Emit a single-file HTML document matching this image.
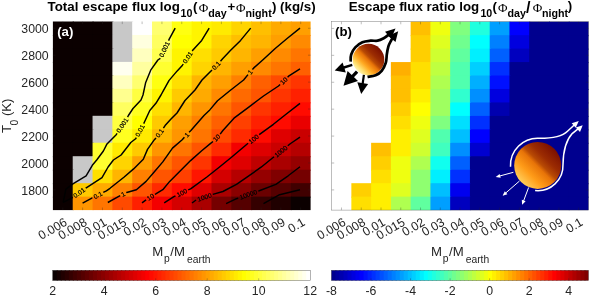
<!DOCTYPE html><html><head><meta charset="utf-8"><title>Escape flux</title><style>html,body{margin:0;padding:0;background:#fff}svg{display:block}text{font-family:"Liberation Sans",sans-serif}</style></head><body>
<svg width="589" height="295" viewBox="0 0 589 295">
<rect width="589" height="295" fill="#fff"/>
<g id="plotA"><rect x="52.90" y="21.50" width="20.82" height="14.47" fill="#0b0000"/><rect x="72.72" y="21.50" width="20.82" height="14.47" fill="#0b0000"/><rect x="92.55" y="21.50" width="20.82" height="14.47" fill="#0b0000"/><rect x="112.37" y="21.50" width="20.82" height="14.47" fill="#c8c8c8"/><rect x="132.19" y="21.50" width="20.82" height="14.47" fill="#ffffff"/><rect x="152.02" y="21.50" width="20.82" height="14.47" fill="#ffff70"/><rect x="171.84" y="21.50" width="20.82" height="14.47" fill="#ffff10"/><rect x="191.66" y="21.50" width="20.82" height="14.47" fill="#fff400"/><rect x="211.48" y="21.50" width="20.82" height="14.47" fill="#ffea00"/><rect x="231.31" y="21.50" width="20.82" height="14.47" fill="#ffd400"/><rect x="251.13" y="21.50" width="20.82" height="14.47" fill="#ffbf00"/><rect x="270.95" y="21.50" width="20.82" height="14.47" fill="#ffaa00"/><rect x="290.78" y="21.50" width="19.82" height="14.47" fill="#ff9f00"/><rect x="52.90" y="34.97" width="20.82" height="14.47" fill="#0b0000"/><rect x="72.72" y="34.97" width="20.82" height="14.47" fill="#0b0000"/><rect x="92.55" y="34.97" width="20.82" height="14.47" fill="#0b0000"/><rect x="112.37" y="34.97" width="20.82" height="14.47" fill="#c8c8c8"/><rect x="132.19" y="34.97" width="20.82" height="14.47" fill="#ffffdf"/><rect x="152.02" y="34.97" width="20.82" height="14.47" fill="#ffff60"/><rect x="171.84" y="34.97" width="20.82" height="14.47" fill="#ffff00"/><rect x="191.66" y="34.97" width="20.82" height="14.47" fill="#fff400"/><rect x="211.48" y="34.97" width="20.82" height="14.47" fill="#ffd400"/><rect x="231.31" y="34.97" width="20.82" height="14.47" fill="#ffbf00"/><rect x="251.13" y="34.97" width="20.82" height="14.47" fill="#ffb500"/><rect x="270.95" y="34.97" width="20.82" height="14.47" fill="#ff9f00"/><rect x="290.78" y="34.97" width="19.82" height="14.47" fill="#ff8a00"/><rect x="52.90" y="48.44" width="20.82" height="14.47" fill="#0b0000"/><rect x="72.72" y="48.44" width="20.82" height="14.47" fill="#0b0000"/><rect x="92.55" y="48.44" width="20.82" height="14.47" fill="#0b0000"/><rect x="112.37" y="48.44" width="20.82" height="14.47" fill="#c8c8c8"/><rect x="132.19" y="48.44" width="20.82" height="14.47" fill="#ffffbf"/><rect x="152.02" y="48.44" width="20.82" height="14.47" fill="#ffff50"/><rect x="171.84" y="48.44" width="20.82" height="14.47" fill="#fff400"/><rect x="191.66" y="48.44" width="20.82" height="14.47" fill="#ffdf00"/><rect x="211.48" y="48.44" width="20.82" height="14.47" fill="#ffca00"/><rect x="231.31" y="48.44" width="20.82" height="14.47" fill="#ffb500"/><rect x="251.13" y="48.44" width="20.82" height="14.47" fill="#ff9f00"/><rect x="270.95" y="48.44" width="20.82" height="14.47" fill="#ff8a00"/><rect x="290.78" y="48.44" width="19.82" height="14.47" fill="#ff7500"/><rect x="52.90" y="61.91" width="20.82" height="14.47" fill="#0b0000"/><rect x="72.72" y="61.91" width="20.82" height="14.47" fill="#0b0000"/><rect x="92.55" y="61.91" width="20.82" height="14.47" fill="#0b0000"/><rect x="112.37" y="61.91" width="20.82" height="14.47" fill="#ffffef"/><rect x="132.19" y="61.91" width="20.82" height="14.47" fill="#ffff9f"/><rect x="152.02" y="61.91" width="20.82" height="14.47" fill="#ffff30"/><rect x="171.84" y="61.91" width="20.82" height="14.47" fill="#fff400"/><rect x="191.66" y="61.91" width="20.82" height="14.47" fill="#ffd400"/><rect x="211.48" y="61.91" width="20.82" height="14.47" fill="#ffb500"/><rect x="231.31" y="61.91" width="20.82" height="14.47" fill="#ff9f00"/><rect x="251.13" y="61.91" width="20.82" height="14.47" fill="#ff8a00"/><rect x="270.95" y="61.91" width="20.82" height="14.47" fill="#ff7500"/><rect x="290.78" y="61.91" width="19.82" height="14.47" fill="#ff6000"/><rect x="52.90" y="75.39" width="20.82" height="14.47" fill="#0b0000"/><rect x="72.72" y="75.39" width="20.82" height="14.47" fill="#0b0000"/><rect x="92.55" y="75.39" width="20.82" height="14.47" fill="#0b0000"/><rect x="112.37" y="75.39" width="20.82" height="14.47" fill="#ffffbf"/><rect x="132.19" y="75.39" width="20.82" height="14.47" fill="#ffff70"/><rect x="152.02" y="75.39" width="20.82" height="14.47" fill="#ffff10"/><rect x="171.84" y="75.39" width="20.82" height="14.47" fill="#ffdf00"/><rect x="191.66" y="75.39" width="20.82" height="14.47" fill="#ffb500"/><rect x="211.48" y="75.39" width="20.82" height="14.47" fill="#ff9f00"/><rect x="231.31" y="75.39" width="20.82" height="14.47" fill="#ff8000"/><rect x="251.13" y="75.39" width="20.82" height="14.47" fill="#ff6000"/><rect x="270.95" y="75.39" width="20.82" height="14.47" fill="#ff4a00"/><rect x="290.78" y="75.39" width="19.82" height="14.47" fill="#ff3500"/><rect x="52.90" y="88.86" width="20.82" height="14.47" fill="#0b0000"/><rect x="72.72" y="88.86" width="20.82" height="14.47" fill="#0b0000"/><rect x="92.55" y="88.86" width="20.82" height="14.47" fill="#0b0000"/><rect x="112.37" y="88.86" width="20.82" height="14.47" fill="#ffff8f"/><rect x="132.19" y="88.86" width="20.82" height="14.47" fill="#ffff40"/><rect x="152.02" y="88.86" width="20.82" height="14.47" fill="#fff400"/><rect x="171.84" y="88.86" width="20.82" height="14.47" fill="#ffca00"/><rect x="191.66" y="88.86" width="20.82" height="14.47" fill="#ffaa00"/><rect x="211.48" y="88.86" width="20.82" height="14.47" fill="#ff8a00"/><rect x="231.31" y="88.86" width="20.82" height="14.47" fill="#ff6a00"/><rect x="251.13" y="88.86" width="20.82" height="14.47" fill="#ff5500"/><rect x="270.95" y="88.86" width="20.82" height="14.47" fill="#ff3500"/><rect x="290.78" y="88.86" width="19.82" height="14.47" fill="#ff2000"/><rect x="52.90" y="102.33" width="20.82" height="14.47" fill="#0b0000"/><rect x="72.72" y="102.33" width="20.82" height="14.47" fill="#0b0000"/><rect x="92.55" y="102.33" width="20.82" height="14.47" fill="#0b0000"/><rect x="112.37" y="102.33" width="20.82" height="14.47" fill="#ffff60"/><rect x="132.19" y="102.33" width="20.82" height="14.47" fill="#ffff20"/><rect x="152.02" y="102.33" width="20.82" height="14.47" fill="#ffdf00"/><rect x="171.84" y="102.33" width="20.82" height="14.47" fill="#ffb500"/><rect x="191.66" y="102.33" width="20.82" height="14.47" fill="#ff9500"/><rect x="211.48" y="102.33" width="20.82" height="14.47" fill="#ff7500"/><rect x="231.31" y="102.33" width="20.82" height="14.47" fill="#ff5500"/><rect x="251.13" y="102.33" width="20.82" height="14.47" fill="#ff3500"/><rect x="270.95" y="102.33" width="20.82" height="14.47" fill="#ff2000"/><rect x="290.78" y="102.33" width="19.82" height="14.47" fill="#ff0b00"/><rect x="52.90" y="115.80" width="20.82" height="14.47" fill="#0b0000"/><rect x="72.72" y="115.80" width="20.82" height="14.47" fill="#0b0000"/><rect x="92.55" y="115.80" width="20.82" height="14.47" fill="#c8c8c8"/><rect x="112.37" y="115.80" width="20.82" height="14.47" fill="#ffff40"/><rect x="132.19" y="115.80" width="20.82" height="14.47" fill="#ffff00"/><rect x="152.02" y="115.80" width="20.82" height="14.47" fill="#ffca00"/><rect x="171.84" y="115.80" width="20.82" height="14.47" fill="#ff9f00"/><rect x="191.66" y="115.80" width="20.82" height="14.47" fill="#ff8000"/><rect x="211.48" y="115.80" width="20.82" height="14.47" fill="#ff6000"/><rect x="231.31" y="115.80" width="20.82" height="14.47" fill="#ff4000"/><rect x="251.13" y="115.80" width="20.82" height="14.47" fill="#ff2000"/><rect x="270.95" y="115.80" width="20.82" height="14.47" fill="#ff0b00"/><rect x="290.78" y="115.80" width="19.82" height="14.47" fill="#ea0000"/><rect x="52.90" y="129.27" width="20.82" height="14.47" fill="#0b0000"/><rect x="72.72" y="129.27" width="20.82" height="14.47" fill="#0b0000"/><rect x="92.55" y="129.27" width="20.82" height="14.47" fill="#c8c8c8"/><rect x="112.37" y="129.27" width="20.82" height="14.47" fill="#ffff20"/><rect x="132.19" y="129.27" width="20.82" height="14.47" fill="#ffea00"/><rect x="152.02" y="129.27" width="20.82" height="14.47" fill="#ffb500"/><rect x="171.84" y="129.27" width="20.82" height="14.47" fill="#ff9500"/><rect x="191.66" y="129.27" width="20.82" height="14.47" fill="#ff7500"/><rect x="211.48" y="129.27" width="20.82" height="14.47" fill="#ff4a00"/><rect x="231.31" y="129.27" width="20.82" height="14.47" fill="#ff2a00"/><rect x="251.13" y="129.27" width="20.82" height="14.47" fill="#ff0b00"/><rect x="270.95" y="129.27" width="20.82" height="14.47" fill="#df0000"/><rect x="290.78" y="129.27" width="19.82" height="14.47" fill="#ca0000"/><rect x="52.90" y="142.74" width="20.82" height="14.47" fill="#0b0000"/><rect x="72.72" y="142.74" width="20.82" height="14.47" fill="#0b0000"/><rect x="92.55" y="142.74" width="20.82" height="14.47" fill="#ffff30"/><rect x="112.37" y="142.74" width="20.82" height="14.47" fill="#ffea00"/><rect x="132.19" y="142.74" width="20.82" height="14.47" fill="#ffca00"/><rect x="152.02" y="142.74" width="20.82" height="14.47" fill="#ff9500"/><rect x="171.84" y="142.74" width="20.82" height="14.47" fill="#ff7500"/><rect x="191.66" y="142.74" width="20.82" height="14.47" fill="#ff5500"/><rect x="211.48" y="142.74" width="20.82" height="14.47" fill="#ff2a00"/><rect x="231.31" y="142.74" width="20.82" height="14.47" fill="#f40000"/><rect x="251.13" y="142.74" width="20.82" height="14.47" fill="#df0000"/><rect x="270.95" y="142.74" width="20.82" height="14.47" fill="#ca0000"/><rect x="290.78" y="142.74" width="19.82" height="14.47" fill="#b50000"/><rect x="52.90" y="156.21" width="20.82" height="14.47" fill="#0b0000"/><rect x="72.72" y="156.21" width="20.82" height="14.47" fill="#c8c8c8"/><rect x="92.55" y="156.21" width="20.82" height="14.47" fill="#ffff30"/><rect x="112.37" y="156.21" width="20.82" height="14.47" fill="#ffd400"/><rect x="132.19" y="156.21" width="20.82" height="14.47" fill="#ff9f00"/><rect x="152.02" y="156.21" width="20.82" height="14.47" fill="#ff7500"/><rect x="171.84" y="156.21" width="20.82" height="14.47" fill="#ff5500"/><rect x="191.66" y="156.21" width="20.82" height="14.47" fill="#ff3500"/><rect x="211.48" y="156.21" width="20.82" height="14.47" fill="#f40000"/><rect x="231.31" y="156.21" width="20.82" height="14.47" fill="#df0000"/><rect x="251.13" y="156.21" width="20.82" height="14.47" fill="#bf0000"/><rect x="270.95" y="156.21" width="20.82" height="14.47" fill="#aa0000"/><rect x="290.78" y="156.21" width="19.82" height="14.47" fill="#950000"/><rect x="52.90" y="169.69" width="20.82" height="14.47" fill="#0b0000"/><rect x="72.72" y="169.69" width="20.82" height="14.47" fill="#c8c8c8"/><rect x="92.55" y="169.69" width="20.82" height="14.47" fill="#ffdf00"/><rect x="112.37" y="169.69" width="20.82" height="14.47" fill="#ffb500"/><rect x="132.19" y="169.69" width="20.82" height="14.47" fill="#ff8000"/><rect x="152.02" y="169.69" width="20.82" height="14.47" fill="#ff5500"/><rect x="171.84" y="169.69" width="20.82" height="14.47" fill="#ff4000"/><rect x="191.66" y="169.69" width="20.82" height="14.47" fill="#ff1500"/><rect x="211.48" y="169.69" width="20.82" height="14.47" fill="#d40000"/><rect x="231.31" y="169.69" width="20.82" height="14.47" fill="#b50000"/><rect x="251.13" y="169.69" width="20.82" height="14.47" fill="#950000"/><rect x="270.95" y="169.69" width="20.82" height="14.47" fill="#800000"/><rect x="290.78" y="169.69" width="19.82" height="14.47" fill="#750000"/><rect x="52.90" y="183.16" width="20.82" height="14.47" fill="#0b0000"/><rect x="72.72" y="183.16" width="20.82" height="14.47" fill="#ffca00"/><rect x="92.55" y="183.16" width="20.82" height="14.47" fill="#ffaa00"/><rect x="112.37" y="183.16" width="20.82" height="14.47" fill="#ff8000"/><rect x="132.19" y="183.16" width="20.82" height="14.47" fill="#ff5500"/><rect x="152.02" y="183.16" width="20.82" height="14.47" fill="#ff2a00"/><rect x="171.84" y="183.16" width="20.82" height="14.47" fill="#ff0b00"/><rect x="191.66" y="183.16" width="20.82" height="14.47" fill="#df0000"/><rect x="211.48" y="183.16" width="20.82" height="14.47" fill="#aa0000"/><rect x="231.31" y="183.16" width="20.82" height="14.47" fill="#8a0000"/><rect x="251.13" y="183.16" width="20.82" height="14.47" fill="#6a0000"/><rect x="270.95" y="183.16" width="20.82" height="14.47" fill="#550000"/><rect x="290.78" y="183.16" width="19.82" height="14.47" fill="#400000"/><rect x="52.90" y="196.63" width="20.82" height="13.47" fill="#0b0000"/><rect x="72.72" y="196.63" width="20.82" height="13.47" fill="#ff9500"/><rect x="92.55" y="196.63" width="20.82" height="13.47" fill="#ff7500"/><rect x="112.37" y="196.63" width="20.82" height="13.47" fill="#ff4a00"/><rect x="132.19" y="196.63" width="20.82" height="13.47" fill="#ff2000"/><rect x="152.02" y="196.63" width="20.82" height="13.47" fill="#f40000"/><rect x="171.84" y="196.63" width="20.82" height="13.47" fill="#d40000"/><rect x="191.66" y="196.63" width="20.82" height="13.47" fill="#aa0000"/><rect x="211.48" y="196.63" width="20.82" height="13.47" fill="#750000"/><rect x="231.31" y="196.63" width="20.82" height="13.47" fill="#550000"/><rect x="251.13" y="196.63" width="20.82" height="13.47" fill="#350000"/><rect x="270.95" y="196.63" width="20.82" height="13.47" fill="#200000"/><rect x="290.78" y="196.63" width="19.82" height="13.47" fill="#0b0000"/></g>
<g id="plotB"><rect x="410.65" y="21.70" width="20.76" height="14.46" fill="#ffbf00"/><rect x="430.41" y="21.70" width="20.76" height="14.46" fill="#efff10"/><rect x="450.17" y="21.70" width="20.76" height="14.46" fill="#80ff80"/><rect x="469.93" y="21.70" width="20.76" height="14.46" fill="#20ffdf"/><rect x="489.69" y="21.70" width="20.76" height="14.46" fill="#009fff"/><rect x="509.45" y="21.70" width="20.76" height="14.46" fill="#0000ff"/><rect x="529.22" y="21.70" width="20.76" height="14.46" fill="#00008f"/><rect x="548.98" y="21.70" width="20.76" height="14.46" fill="#00008f"/><rect x="568.74" y="21.70" width="19.76" height="14.46" fill="#00008f"/><rect x="410.65" y="35.16" width="20.76" height="14.46" fill="#ffcf00"/><rect x="430.41" y="35.16" width="20.76" height="14.46" fill="#dfff20"/><rect x="450.17" y="35.16" width="20.76" height="14.46" fill="#70ff8f"/><rect x="469.93" y="35.16" width="20.76" height="14.46" fill="#00ffff"/><rect x="489.69" y="35.16" width="20.76" height="14.46" fill="#0080ff"/><rect x="509.45" y="35.16" width="20.76" height="14.46" fill="#0000df"/><rect x="529.22" y="35.16" width="20.76" height="14.46" fill="#00008f"/><rect x="548.98" y="35.16" width="20.76" height="14.46" fill="#00008f"/><rect x="568.74" y="35.16" width="19.76" height="14.46" fill="#00008f"/><rect x="410.65" y="48.61" width="20.76" height="14.46" fill="#ffcf00"/><rect x="430.41" y="48.61" width="20.76" height="14.46" fill="#cfff30"/><rect x="450.17" y="48.61" width="20.76" height="14.46" fill="#60ff9f"/><rect x="469.93" y="48.61" width="20.76" height="14.46" fill="#00efff"/><rect x="489.69" y="48.61" width="20.76" height="14.46" fill="#0060ff"/><rect x="509.45" y="48.61" width="20.76" height="14.46" fill="#0000bf"/><rect x="529.22" y="48.61" width="20.76" height="14.46" fill="#00008f"/><rect x="548.98" y="48.61" width="20.76" height="14.46" fill="#00008f"/><rect x="568.74" y="48.61" width="19.76" height="14.46" fill="#00008f"/><rect x="390.88" y="62.07" width="20.76" height="14.46" fill="#ffaf00"/><rect x="410.65" y="62.07" width="20.76" height="14.46" fill="#ffdf00"/><rect x="430.41" y="62.07" width="20.76" height="14.46" fill="#bfff40"/><rect x="450.17" y="62.07" width="20.76" height="14.46" fill="#50ffaf"/><rect x="469.93" y="62.07" width="20.76" height="14.46" fill="#00cfff"/><rect x="489.69" y="62.07" width="20.76" height="14.46" fill="#0030ff"/><rect x="509.45" y="62.07" width="20.76" height="14.46" fill="#00008f"/><rect x="529.22" y="62.07" width="20.76" height="14.46" fill="#00008f"/><rect x="548.98" y="62.07" width="20.76" height="14.46" fill="#00008f"/><rect x="568.74" y="62.07" width="19.76" height="14.46" fill="#00008f"/><rect x="390.88" y="75.53" width="20.76" height="14.46" fill="#ffbf00"/><rect x="410.65" y="75.53" width="20.76" height="14.46" fill="#ffdf00"/><rect x="430.41" y="75.53" width="20.76" height="14.46" fill="#afff50"/><rect x="450.17" y="75.53" width="20.76" height="14.46" fill="#50ffaf"/><rect x="469.93" y="75.53" width="20.76" height="14.46" fill="#00afff"/><rect x="489.69" y="75.53" width="20.76" height="14.46" fill="#0010ff"/><rect x="509.45" y="75.53" width="20.76" height="14.46" fill="#00008f"/><rect x="529.22" y="75.53" width="20.76" height="14.46" fill="#00008f"/><rect x="548.98" y="75.53" width="20.76" height="14.46" fill="#00008f"/><rect x="568.74" y="75.53" width="19.76" height="14.46" fill="#00008f"/><rect x="390.88" y="88.99" width="20.76" height="14.46" fill="#ffbf00"/><rect x="410.65" y="88.99" width="20.76" height="14.46" fill="#ffef00"/><rect x="430.41" y="88.99" width="20.76" height="14.46" fill="#9fff60"/><rect x="450.17" y="88.99" width="20.76" height="14.46" fill="#30ffcf"/><rect x="469.93" y="88.99" width="20.76" height="14.46" fill="#008fff"/><rect x="489.69" y="88.99" width="20.76" height="14.46" fill="#0000df"/><rect x="509.45" y="88.99" width="20.76" height="14.46" fill="#00008f"/><rect x="529.22" y="88.99" width="20.76" height="14.46" fill="#00008f"/><rect x="548.98" y="88.99" width="20.76" height="14.46" fill="#00008f"/><rect x="568.74" y="88.99" width="19.76" height="14.46" fill="#00008f"/><rect x="390.88" y="102.44" width="20.76" height="14.46" fill="#ffcf00"/><rect x="410.65" y="102.44" width="20.76" height="14.46" fill="#ffff00"/><rect x="430.41" y="102.44" width="20.76" height="14.46" fill="#9fff60"/><rect x="450.17" y="102.44" width="20.76" height="14.46" fill="#00ffff"/><rect x="469.93" y="102.44" width="20.76" height="14.46" fill="#0060ff"/><rect x="489.69" y="102.44" width="20.76" height="14.46" fill="#0000af"/><rect x="509.45" y="102.44" width="20.76" height="14.46" fill="#00008f"/><rect x="529.22" y="102.44" width="20.76" height="14.46" fill="#00008f"/><rect x="548.98" y="102.44" width="20.76" height="14.46" fill="#00008f"/><rect x="568.74" y="102.44" width="19.76" height="14.46" fill="#00008f"/><rect x="390.88" y="115.90" width="20.76" height="14.46" fill="#ffdf00"/><rect x="410.65" y="115.90" width="20.76" height="14.46" fill="#efff10"/><rect x="430.41" y="115.90" width="20.76" height="14.46" fill="#80ff80"/><rect x="450.17" y="115.90" width="20.76" height="14.46" fill="#00dfff"/><rect x="469.93" y="115.90" width="20.76" height="14.46" fill="#0030ff"/><rect x="489.69" y="115.90" width="20.76" height="14.46" fill="#00008f"/><rect x="509.45" y="115.90" width="20.76" height="14.46" fill="#00008f"/><rect x="529.22" y="115.90" width="20.76" height="14.46" fill="#00008f"/><rect x="548.98" y="115.90" width="20.76" height="14.46" fill="#00008f"/><rect x="568.74" y="115.90" width="19.76" height="14.46" fill="#00008f"/><rect x="390.88" y="129.36" width="20.76" height="14.46" fill="#ffef00"/><rect x="410.65" y="129.36" width="20.76" height="14.46" fill="#dfff20"/><rect x="430.41" y="129.36" width="20.76" height="14.46" fill="#50ffaf"/><rect x="450.17" y="129.36" width="20.76" height="14.46" fill="#00bfff"/><rect x="469.93" y="129.36" width="20.76" height="14.46" fill="#0000ff"/><rect x="489.69" y="129.36" width="20.76" height="14.46" fill="#00008f"/><rect x="509.45" y="129.36" width="20.76" height="14.46" fill="#00008f"/><rect x="529.22" y="129.36" width="20.76" height="14.46" fill="#00008f"/><rect x="548.98" y="129.36" width="20.76" height="14.46" fill="#00008f"/><rect x="568.74" y="129.36" width="19.76" height="14.46" fill="#00008f"/><rect x="371.12" y="142.81" width="20.76" height="14.46" fill="#ffbf00"/><rect x="390.88" y="142.81" width="20.76" height="14.46" fill="#ffef00"/><rect x="410.65" y="142.81" width="20.76" height="14.46" fill="#cfff30"/><rect x="430.41" y="142.81" width="20.76" height="14.46" fill="#40ffbf"/><rect x="450.17" y="142.81" width="20.76" height="14.46" fill="#008fff"/><rect x="469.93" y="142.81" width="20.76" height="14.46" fill="#0000cf"/><rect x="489.69" y="142.81" width="20.76" height="14.46" fill="#00008f"/><rect x="509.45" y="142.81" width="20.76" height="14.46" fill="#00008f"/><rect x="529.22" y="142.81" width="20.76" height="14.46" fill="#00008f"/><rect x="548.98" y="142.81" width="20.76" height="14.46" fill="#00008f"/><rect x="568.74" y="142.81" width="19.76" height="14.46" fill="#00008f"/><rect x="371.12" y="156.27" width="20.76" height="14.46" fill="#ffcf00"/><rect x="390.88" y="156.27" width="20.76" height="14.46" fill="#efff10"/><rect x="410.65" y="156.27" width="20.76" height="14.46" fill="#afff50"/><rect x="430.41" y="156.27" width="20.76" height="14.46" fill="#10ffef"/><rect x="450.17" y="156.27" width="20.76" height="14.46" fill="#0060ff"/><rect x="469.93" y="156.27" width="20.76" height="14.46" fill="#00008f"/><rect x="489.69" y="156.27" width="20.76" height="14.46" fill="#00008f"/><rect x="509.45" y="156.27" width="20.76" height="14.46" fill="#00008f"/><rect x="529.22" y="156.27" width="20.76" height="14.46" fill="#00008f"/><rect x="548.98" y="156.27" width="20.76" height="14.46" fill="#00008f"/><rect x="568.74" y="156.27" width="19.76" height="14.46" fill="#00008f"/><rect x="371.12" y="169.73" width="20.76" height="14.46" fill="#ffdf00"/><rect x="390.88" y="169.73" width="20.76" height="14.46" fill="#efff10"/><rect x="410.65" y="169.73" width="20.76" height="14.46" fill="#8fff70"/><rect x="430.41" y="169.73" width="20.76" height="14.46" fill="#00efff"/><rect x="450.17" y="169.73" width="20.76" height="14.46" fill="#0030ff"/><rect x="469.93" y="169.73" width="20.76" height="14.46" fill="#00008f"/><rect x="489.69" y="169.73" width="20.76" height="14.46" fill="#00008f"/><rect x="509.45" y="169.73" width="20.76" height="14.46" fill="#00008f"/><rect x="529.22" y="169.73" width="20.76" height="14.46" fill="#00008f"/><rect x="548.98" y="169.73" width="20.76" height="14.46" fill="#00008f"/><rect x="568.74" y="169.73" width="19.76" height="14.46" fill="#00008f"/><rect x="351.36" y="183.19" width="20.76" height="14.46" fill="#ffcf00"/><rect x="371.12" y="183.19" width="20.76" height="14.46" fill="#ffef00"/><rect x="390.88" y="183.19" width="20.76" height="14.46" fill="#dfff20"/><rect x="410.65" y="183.19" width="20.76" height="14.46" fill="#8fff70"/><rect x="430.41" y="183.19" width="20.76" height="14.46" fill="#00bfff"/><rect x="450.17" y="183.19" width="20.76" height="14.46" fill="#0000ef"/><rect x="469.93" y="183.19" width="20.76" height="14.46" fill="#00008f"/><rect x="489.69" y="183.19" width="20.76" height="14.46" fill="#00008f"/><rect x="509.45" y="183.19" width="20.76" height="14.46" fill="#00008f"/><rect x="529.22" y="183.19" width="20.76" height="14.46" fill="#00008f"/><rect x="548.98" y="183.19" width="20.76" height="14.46" fill="#00008f"/><rect x="568.74" y="183.19" width="19.76" height="14.46" fill="#00008f"/><rect x="351.36" y="196.64" width="20.76" height="13.46" fill="#ffdf00"/><rect x="371.12" y="196.64" width="20.76" height="13.46" fill="#ffef00"/><rect x="390.88" y="196.64" width="20.76" height="13.46" fill="#afff50"/><rect x="410.65" y="196.64" width="20.76" height="13.46" fill="#60ff9f"/><rect x="430.41" y="196.64" width="20.76" height="13.46" fill="#009fff"/><rect x="450.17" y="196.64" width="20.76" height="13.46" fill="#0000bf"/><rect x="469.93" y="196.64" width="20.76" height="13.46" fill="#00008f"/><rect x="489.69" y="196.64" width="20.76" height="13.46" fill="#00008f"/><rect x="509.45" y="196.64" width="20.76" height="13.46" fill="#00008f"/><rect x="529.22" y="196.64" width="20.76" height="13.46" fill="#00008f"/><rect x="548.98" y="196.64" width="20.76" height="13.46" fill="#00008f"/><rect x="568.74" y="196.64" width="19.76" height="13.46" fill="#00008f"/></g>
<g stroke="#262626" stroke-width="0.5" fill="none" opacity="0.6"><path d="M62.81 210.10v-2.6M62.81 21.50v2.6"/><path d="M82.63 210.10v-2.6M82.63 21.50v2.6"/><path d="M102.46 210.10v-2.6M102.46 21.50v2.6"/><path d="M122.28 210.10v-2.6M122.28 21.50v2.6"/><path d="M142.10 210.10v-2.6M142.10 21.50v2.6"/><path d="M161.93 210.10v-2.6M161.93 21.50v2.6"/><path d="M181.75 210.10v-2.6M181.75 21.50v2.6"/><path d="M201.57 210.10v-2.6M201.57 21.50v2.6"/><path d="M221.40 210.10v-2.6M221.40 21.50v2.6"/><path d="M241.22 210.10v-2.6M241.22 21.50v2.6"/><path d="M261.04 210.10v-2.6M261.04 21.50v2.6"/><path d="M280.87 210.10v-2.6M280.87 21.50v2.6"/><path d="M300.69 210.10v-2.6M300.69 21.50v2.6"/><path d="M52.90 28.24h2.6M310.60 28.24h-2.6"/><path d="M52.90 55.18h2.6M310.60 55.18h-2.6"/><path d="M52.90 82.12h2.6M310.60 82.12h-2.6"/><path d="M52.90 109.06h2.6M310.60 109.06h-2.6"/><path d="M52.90 136.01h2.6M310.60 136.01h-2.6"/><path d="M52.90 162.95h2.6M310.60 162.95h-2.6"/><path d="M52.90 189.89h2.6M310.60 189.89h-2.6"/></g>
<g stroke="#262626" stroke-width="0.5" fill="none" opacity="0.6"><rect x="331.60" y="21.70" width="256.90" height="188.40"/><path d="M341.48 210.10v-2.6M341.48 21.70v2.6"/><path d="M361.24 210.10v-2.6M361.24 21.70v2.6"/><path d="M381.00 210.10v-2.6M381.00 21.70v2.6"/><path d="M400.77 210.10v-2.6M400.77 21.70v2.6"/><path d="M420.53 210.10v-2.6M420.53 21.70v2.6"/><path d="M440.29 210.10v-2.6M440.29 21.70v2.6"/><path d="M460.05 210.10v-2.6M460.05 21.70v2.6"/><path d="M479.81 210.10v-2.6M479.81 21.70v2.6"/><path d="M499.57 210.10v-2.6M499.57 21.70v2.6"/><path d="M519.33 210.10v-2.6M519.33 21.70v2.6"/><path d="M539.10 210.10v-2.6M539.10 21.70v2.6"/><path d="M558.86 210.10v-2.6M558.86 21.70v2.6"/><path d="M578.62 210.10v-2.6M578.62 21.70v2.6"/><path d="M331.60 28.43h2.6M588.50 28.43h-2.6"/><path d="M331.60 55.34h2.6M588.50 55.34h-2.6"/><path d="M331.60 82.26h2.6M588.50 82.26h-2.6"/><path d="M331.60 109.17h2.6M588.50 109.17h-2.6"/><path d="M331.60 136.09h2.6M588.50 136.09h-2.6"/><path d="M331.60 163.00h2.6M588.50 163.00h-2.6"/><path d="M331.60 189.91h2.6M588.50 189.91h-2.6"/></g>
<g id="contours" fill="none" stroke="#000" stroke-width="1.45" stroke-linejoin="round" stroke-linecap="butt">
<text x="164.4" y="49.4" transform="rotate(-64.5 164.4 49.4)" font-size="6.5" text-anchor="middle" dy="2.3" fill="#000" stroke="#000" stroke-width="0.2">0.001</text><text x="122.3" y="125.2" transform="rotate(-57.5 122.3 125.2)" font-size="6.5" text-anchor="middle" dy="2.3" fill="#000" stroke="#000" stroke-width="0.2">0.001</text><polyline points="175.2,28.1 169.1,39.4 168.6,40.6"/><polyline points="160.2,58.2 159.9,58.7 157.9,60.0 150.7,70.2 145.7,82.4 143.0,95.0 141.0,100.0 133.0,108.5 128.4,115.5 127.6,117.1"/><polyline points="117.1,133.4 116.2,134.7 107.0,143.9 103.4,151.0 96.7,160.0 92.3,165.3 86.1,175.9 72.9,183.8 65.9,189.1 63.2,202.3"/>
<text x="187.7" y="57.5" transform="rotate(-55.4 187.7 57.5)" font-size="6.5" text-anchor="middle" dy="2.3" fill="#000" stroke="#000" stroke-width="0.2">0.01</text><text x="140.0" y="130.6" transform="rotate(-62.2 140.0 130.6)" font-size="6.5" text-anchor="middle" dy="2.3" fill="#000" stroke="#000" stroke-width="0.2">0.01</text><text x="79.2" y="192.8" transform="rotate(-35.3 79.2 192.8)" font-size="6.5" text-anchor="middle" dy="2.3" fill="#000" stroke="#000" stroke-width="0.2">0.01</text><polyline points="209.2,28.1 201.7,40.4 192.5,50.6 192.2,51.0"/><polyline points="183.2,64.0 182.3,65.5 177.2,70.9 169.1,80.4 163.4,90.6 161.0,95.0 155.9,103.3 149.8,110.5 144.7,121.5 143.7,123.6"/><polyline points="136.3,137.6 135.6,138.8 130.8,142.5 121.1,155.0 113.4,160.0 108.1,167.0 102.0,177.6 87.0,187.3 85.7,188.2"/><polyline points="72.7,197.3 72.0,197.9 63.2,202.3"/>
<text x="216.3" y="65.6" transform="rotate(-46.3 216.3 65.6)" font-size="6.5" text-anchor="middle" dy="2.3" fill="#000" stroke="#000" stroke-width="0.2">0.1</text><text x="159.7" y="133.1" transform="rotate(-52.6 159.7 133.1)" font-size="6.5" text-anchor="middle" dy="2.3" fill="#000" stroke="#000" stroke-width="0.2">0.1</text><text x="97.9" y="195.1" transform="rotate(-26.6 97.9 195.1)" font-size="6.5" text-anchor="middle" dy="2.3" fill="#000" stroke="#000" stroke-width="0.2">0.1</text><polyline points="250.7,28.1 240.6,40.4 230.4,50.6 222.6,58.7 220.5,61.2"/><polyline points="212.0,70.0 211.5,70.5 202.0,80.0 195.0,90.0 185.0,100.5 177.0,113.0 171.0,119.0 165.1,125.6 163.4,128.2"/><polyline points="156.0,137.9 154.4,139.7 147.5,149.4 143.3,159.2 133.6,168.9 123.9,177.2 110.0,188.3 106.4,190.8 103.3,192.4"/><polyline points="92.4,197.9 92.3,197.9 82.6,203.2"/>
<text x="250.2" y="72.1" transform="rotate(-49.4 250.2 72.1)" font-size="6.5" text-anchor="middle" dy="2.3" fill="#000" stroke="#000" stroke-width="0.2">1</text><text x="186.8" y="134.8" transform="rotate(-46.5 186.8 134.8)" font-size="6.5" text-anchor="middle" dy="2.3" fill="#000" stroke="#000" stroke-width="0.2">1</text><text x="123.2" y="194.1" transform="rotate(-25.8 123.2 194.1)" font-size="6.5" text-anchor="middle" dy="2.3" fill="#000" stroke="#000" stroke-width="0.2">1</text><polyline points="300.0,28.1 287.4,38.3 275.2,48.5 263.0,59.7 253.8,67.9 252.4,69.5"/><polyline points="248.0,74.6 243.6,80.0 229.5,91.0 217.5,100.8 209.8,109.9 204.0,115.5 190.9,130.5 189.1,132.3"/><polyline points="184.4,137.2 182.2,139.7 172.5,148.1 162.8,161.9 154.4,171.7 146.1,181.4 136.4,189.7 126.7,192.5 126.3,192.7"/><polyline points="120.2,195.6 118.3,196.7 107.8,202.5"/>
<text x="283.8" y="80.8" transform="rotate(-44.2 283.8 80.8)" font-size="6.5" text-anchor="middle" dy="2.3" fill="#000" stroke="#000" stroke-width="0.2">10</text><text x="216.6" y="137.8" transform="rotate(-45.8 216.6 137.8)" font-size="6.5" text-anchor="middle" dy="2.3" fill="#000" stroke="#000" stroke-width="0.2">10</text><text x="150.5" y="197.1" transform="rotate(-31.6 150.5 197.1)" font-size="6.5" text-anchor="middle" dy="2.3" fill="#000" stroke="#000" stroke-width="0.2">10</text><polyline points="300.0,68.9 288.6,76.2 287.6,77.2"/><polyline points="280.1,84.5 278.5,86.0 263.5,96.0 248.8,107.1 234.0,118.2 222.9,130.5 220.2,134.1"/><polyline points="213.0,141.5 210.0,143.9 201.7,150.8 190.6,160.6 179.4,171.7 169.7,181.4 162.8,189.7 155.8,193.9 154.9,194.3"/><polyline points="146.1,199.8 144.7,200.8 142.0,202.8"/>
<text x="253.7" y="139.0" transform="rotate(-37.7 253.7 139.0)" font-size="6.5" text-anchor="middle" dy="2.3" fill="#000" stroke="#000" stroke-width="0.2">100</text><text x="181.9" y="192.8" transform="rotate(-25.2 181.9 192.8)" font-size="6.5" text-anchor="middle" dy="2.3" fill="#000" stroke="#000" stroke-width="0.2">100</text><polyline points="300.0,103.4 285.7,114.5 273.4,124.3 259.9,134.2 259.2,134.7"/><polyline points="248.1,143.3 246.3,144.7 231.5,157.3 219.2,167.2 206.9,177.0 190.6,188.9 188.2,189.9"/><polyline points="175.5,195.8 173.9,196.7 164.2,202.8"/>
<text x="280.9" y="151.4" transform="rotate(-38.6 280.9 151.4)" font-size="6.5" text-anchor="middle" dy="2.3" fill="#000" stroke="#000" stroke-width="0.2">1000</text><text x="204.5" y="197.2" transform="rotate(-18.5 204.5 197.2)" font-size="6.5" text-anchor="middle" dy="2.3" fill="#000" stroke="#000" stroke-width="0.2">1000</text><polyline points="300.0,137.1 290.6,143.5 287.8,145.8"/><polyline points="274.0,156.9 273.4,157.3 261.1,167.2 248.8,175.8 236.5,184.4 222.9,191.5 212.8,194.4"/><polyline points="196.1,200.0 192.0,203.0"/>
<text x="248.3" y="194.6" transform="rotate(-19.3 248.3 194.6)" font-size="6.5" text-anchor="middle" dy="2.3" fill="#000" stroke="#000" stroke-width="0.2">10000</text><polyline points="300.0,166.7 288.2,175.8 275.9,184.4 259.9,190.5 258.3,191.1"/><polyline points="238.2,198.1 236.5,198.7 226.1,203.6"/>
<polyline points="300.0,189.8 279.6,194.7 263.5,203.6"/>
</g>
<g fill="#262626">
<text x="48.7" y="33.24" font-size="12.3" text-anchor="end">3000</text>
<text x="48.7" y="60.18" font-size="12.3" text-anchor="end">2800</text>
<text x="48.7" y="87.12" font-size="12.3" text-anchor="end">2600</text>
<text x="48.7" y="114.06" font-size="12.3" text-anchor="end">2400</text>
<text x="48.7" y="141.01" font-size="12.3" text-anchor="end">2200</text>
<text x="48.7" y="167.95" font-size="12.3" text-anchor="end">2000</text>
<text x="48.7" y="194.89" font-size="12.3" text-anchor="end">1800</text>
<text x="63.61" y="217.00" font-size="12.3" text-anchor="end" transform="rotate(-30 63.61 217.00)" dy="8.8">0.006</text>
<text x="83.43" y="217.00" font-size="12.3" text-anchor="end" transform="rotate(-30 83.43 217.00)" dy="8.8">0.008</text>
<text x="103.26" y="217.00" font-size="12.3" text-anchor="end" transform="rotate(-30 103.26 217.00)" dy="8.8">0.01</text>
<text x="123.08" y="217.00" font-size="12.3" text-anchor="end" transform="rotate(-30 123.08 217.00)" dy="8.8">0.015</text>
<text x="142.90" y="217.00" font-size="12.3" text-anchor="end" transform="rotate(-30 142.90 217.00)" dy="8.8">0.02</text>
<text x="162.73" y="217.00" font-size="12.3" text-anchor="end" transform="rotate(-30 162.73 217.00)" dy="8.8">0.03</text>
<text x="182.55" y="217.00" font-size="12.3" text-anchor="end" transform="rotate(-30 182.55 217.00)" dy="8.8">0.04</text>
<text x="202.37" y="217.00" font-size="12.3" text-anchor="end" transform="rotate(-30 202.37 217.00)" dy="8.8">0.05</text>
<text x="222.20" y="217.00" font-size="12.3" text-anchor="end" transform="rotate(-30 222.20 217.00)" dy="8.8">0.06</text>
<text x="242.02" y="217.00" font-size="12.3" text-anchor="end" transform="rotate(-30 242.02 217.00)" dy="8.8">0.07</text>
<text x="261.84" y="217.00" font-size="12.3" text-anchor="end" transform="rotate(-30 261.84 217.00)" dy="8.8">0.08</text>
<text x="281.67" y="217.00" font-size="12.3" text-anchor="end" transform="rotate(-30 281.67 217.00)" dy="8.8">0.09</text>
<text x="301.49" y="217.00" font-size="12.3" text-anchor="end" transform="rotate(-30 301.49 217.00)" dy="8.8">0.1</text>
<text x="342.28" y="217.00" font-size="12.3" text-anchor="end" transform="rotate(-30 342.28 217.00)" dy="8.8">0.006</text>
<text x="362.04" y="217.00" font-size="12.3" text-anchor="end" transform="rotate(-30 362.04 217.00)" dy="8.8">0.008</text>
<text x="381.80" y="217.00" font-size="12.3" text-anchor="end" transform="rotate(-30 381.80 217.00)" dy="8.8">0.01</text>
<text x="401.57" y="217.00" font-size="12.3" text-anchor="end" transform="rotate(-30 401.57 217.00)" dy="8.8">0.015</text>
<text x="421.33" y="217.00" font-size="12.3" text-anchor="end" transform="rotate(-30 421.33 217.00)" dy="8.8">0.02</text>
<text x="441.09" y="217.00" font-size="12.3" text-anchor="end" transform="rotate(-30 441.09 217.00)" dy="8.8">0.03</text>
<text x="460.85" y="217.00" font-size="12.3" text-anchor="end" transform="rotate(-30 460.85 217.00)" dy="8.8">0.04</text>
<text x="480.61" y="217.00" font-size="12.3" text-anchor="end" transform="rotate(-30 480.61 217.00)" dy="8.8">0.05</text>
<text x="500.37" y="217.00" font-size="12.3" text-anchor="end" transform="rotate(-30 500.37 217.00)" dy="8.8">0.06</text>
<text x="520.13" y="217.00" font-size="12.3" text-anchor="end" transform="rotate(-30 520.13 217.00)" dy="8.8">0.07</text>
<text x="539.90" y="217.00" font-size="12.3" text-anchor="end" transform="rotate(-30 539.90 217.00)" dy="8.8">0.08</text>
<text x="559.66" y="217.00" font-size="12.3" text-anchor="end" transform="rotate(-30 559.66 217.00)" dy="8.8">0.09</text>
<text x="579.42" y="217.00" font-size="12.3" text-anchor="end" transform="rotate(-30 579.42 217.00)" dy="8.8">0.1</text>
<text y="255.6" font-size="13.2"><tspan x="152.3">M</tspan><tspan x="164.0" dy="6.4" font-size="10.3">p</tspan><tspan x="170.3" dy="-6.4">/M</tspan><tspan x="187.0" dy="7.2" font-size="10.3">earth</tspan></text>
<text y="255.6" font-size="13.2"><tspan x="431.0">M</tspan><tspan x="442.7" dy="6.4" font-size="10.3">p</tspan><tspan x="449.0" dy="-6.4">/M</tspan><tspan x="465.7" dy="7.2" font-size="10.3">earth</tspan></text>
<text transform="translate(10.6 133.1) rotate(-90)" font-size="13.2"><tspan x="0" y="0">T</tspan><tspan x="7.6" y="7" font-size="10.3">0</tspan><tspan x="17" y="0">(K)</tspan></text>
<text x="52.70" y="294.7" font-size="12.3" text-anchor="middle">2</text>
<text x="104.20" y="294.7" font-size="12.3" text-anchor="middle">4</text>
<text x="155.70" y="294.7" font-size="12.3" text-anchor="middle">6</text>
<text x="207.20" y="294.7" font-size="12.3" text-anchor="middle">8</text>
<text x="258.70" y="294.7" font-size="12.3" text-anchor="middle">10</text>
<text x="310.20" y="294.7" font-size="12.3" text-anchor="middle">12</text>
<text x="331.40" y="294.7" font-size="12.3" text-anchor="middle">-8</text>
<text x="370.96" y="294.7" font-size="12.3" text-anchor="middle">-6</text>
<text x="410.52" y="294.7" font-size="12.3" text-anchor="middle">-4</text>
<text x="450.08" y="294.7" font-size="12.3" text-anchor="middle">-2</text>
<text x="489.64" y="294.7" font-size="12.3" text-anchor="middle">0</text>
<text x="529.20" y="294.7" font-size="12.3" text-anchor="middle">2</text>
<text x="568.76" y="294.7" font-size="12.3" text-anchor="middle">4</text>
</g>
<g fill="#000" font-weight="bold" font-size="13.3">
<text y="10.6"><tspan x="47.4" textLength="132.4">Total escape flux log</tspan><tspan x="180.5" y="16.5" font-size="10.7">10</tspan><tspan x="193.0" y="10.6">(</tspan><tspan x="198.7" y="11.7" font-family="Liberation Serif,serif" font-weight="normal" font-size="13">Φ</tspan><tspan x="208.2" y="16.8" font-size="10.7">day</tspan><tspan x="227.5" y="10.6">+</tspan><tspan x="236.1" y="11.7" font-family="Liberation Serif,serif" font-weight="normal" font-size="13">Φ</tspan><tspan x="245.6" y="16.8" font-size="10.7">night</tspan><tspan x="272.0" y="10.6">) (kg/s)</tspan></text>
<text y="10.5"><tspan x="348.7" textLength="130.5">Escape flux ratio log</tspan><tspan x="480.4" y="16.5" font-size="10.7">10</tspan><tspan x="492.6" y="10.5">(</tspan><tspan x="498.0" y="11.7" font-family="Liberation Serif,serif" font-weight="normal" font-size="13">Φ</tspan><tspan x="507.6" y="16.8" font-size="10.7">day</tspan><tspan x="526.0" y="12.6" font-size="16">/</tspan><tspan x="532.8" y="11.7" font-family="Liberation Serif,serif" font-weight="normal" font-size="13">Φ</tspan><tspan x="541.9" y="16.8" font-size="10.7">night</tspan><tspan x="567.8" y="10.2">)</tspan></text>
<text x="57.2" y="36.1" font-size="13.2" fill="#fff">(a)</text>
<text x="335.0" y="36.1" font-size="13.2" fill="#000">(b)</text>
</g>
<rect x="52.70" y="270.30" width="5.03" height="10.20" fill="#0b0000"/><rect x="56.73" y="270.30" width="5.03" height="10.20" fill="#150000"/><rect x="60.75" y="270.30" width="5.03" height="10.20" fill="#200000"/><rect x="64.78" y="270.30" width="5.03" height="10.20" fill="#2a0000"/><rect x="68.80" y="270.30" width="5.03" height="10.20" fill="#350000"/><rect x="72.83" y="270.30" width="5.03" height="10.20" fill="#400000"/><rect x="76.85" y="270.30" width="5.03" height="10.20" fill="#4a0000"/><rect x="80.88" y="270.30" width="5.03" height="10.20" fill="#550000"/><rect x="84.90" y="270.30" width="5.03" height="10.20" fill="#600000"/><rect x="88.93" y="270.30" width="5.03" height="10.20" fill="#6a0000"/><rect x="92.95" y="270.30" width="5.03" height="10.20" fill="#750000"/><rect x="96.98" y="270.30" width="5.03" height="10.20" fill="#800000"/><rect x="101.00" y="270.30" width="5.03" height="10.20" fill="#8a0000"/><rect x="105.03" y="270.30" width="5.03" height="10.20" fill="#950000"/><rect x="109.05" y="270.30" width="5.03" height="10.20" fill="#9f0000"/><rect x="113.08" y="270.30" width="5.03" height="10.20" fill="#aa0000"/><rect x="117.10" y="270.30" width="5.03" height="10.20" fill="#b50000"/><rect x="121.13" y="270.30" width="5.03" height="10.20" fill="#bf0000"/><rect x="125.15" y="270.30" width="5.03" height="10.20" fill="#ca0000"/><rect x="129.18" y="270.30" width="5.03" height="10.20" fill="#d40000"/><rect x="133.20" y="270.30" width="5.03" height="10.20" fill="#df0000"/><rect x="137.23" y="270.30" width="5.03" height="10.20" fill="#ea0000"/><rect x="141.25" y="270.30" width="5.03" height="10.20" fill="#f40000"/><rect x="145.28" y="270.30" width="5.03" height="10.20" fill="#ff0000"/><rect x="149.30" y="270.30" width="5.03" height="10.20" fill="#ff0b00"/><rect x="153.33" y="270.30" width="5.03" height="10.20" fill="#ff1500"/><rect x="157.35" y="270.30" width="5.03" height="10.20" fill="#ff2000"/><rect x="161.38" y="270.30" width="5.03" height="10.20" fill="#ff2a00"/><rect x="165.40" y="270.30" width="5.03" height="10.20" fill="#ff3500"/><rect x="169.43" y="270.30" width="5.03" height="10.20" fill="#ff4000"/><rect x="173.45" y="270.30" width="5.03" height="10.20" fill="#ff4a00"/><rect x="177.48" y="270.30" width="5.03" height="10.20" fill="#ff5500"/><rect x="181.50" y="270.30" width="5.03" height="10.20" fill="#ff6000"/><rect x="185.53" y="270.30" width="5.03" height="10.20" fill="#ff6a00"/><rect x="189.55" y="270.30" width="5.03" height="10.20" fill="#ff7500"/><rect x="193.57" y="270.30" width="5.03" height="10.20" fill="#ff8000"/><rect x="197.60" y="270.30" width="5.03" height="10.20" fill="#ff8a00"/><rect x="201.62" y="270.30" width="5.03" height="10.20" fill="#ff9500"/><rect x="205.65" y="270.30" width="5.03" height="10.20" fill="#ff9f00"/><rect x="209.68" y="270.30" width="5.03" height="10.20" fill="#ffaa00"/><rect x="213.70" y="270.30" width="5.03" height="10.20" fill="#ffb500"/><rect x="217.73" y="270.30" width="5.03" height="10.20" fill="#ffbf00"/><rect x="221.75" y="270.30" width="5.03" height="10.20" fill="#ffca00"/><rect x="225.78" y="270.30" width="5.03" height="10.20" fill="#ffd400"/><rect x="229.80" y="270.30" width="5.03" height="10.20" fill="#ffdf00"/><rect x="233.83" y="270.30" width="5.03" height="10.20" fill="#ffea00"/><rect x="237.85" y="270.30" width="5.03" height="10.20" fill="#fff400"/><rect x="241.88" y="270.30" width="5.03" height="10.20" fill="#ffff00"/><rect x="245.90" y="270.30" width="5.03" height="10.20" fill="#ffff10"/><rect x="249.93" y="270.30" width="5.03" height="10.20" fill="#ffff20"/><rect x="253.95" y="270.30" width="5.03" height="10.20" fill="#ffff30"/><rect x="257.98" y="270.30" width="5.03" height="10.20" fill="#ffff40"/><rect x="262.00" y="270.30" width="5.03" height="10.20" fill="#ffff50"/><rect x="266.03" y="270.30" width="5.03" height="10.20" fill="#ffff60"/><rect x="270.05" y="270.30" width="5.03" height="10.20" fill="#ffff70"/><rect x="274.08" y="270.30" width="5.03" height="10.20" fill="#ffff80"/><rect x="278.10" y="270.30" width="5.03" height="10.20" fill="#ffff8f"/><rect x="282.12" y="270.30" width="5.03" height="10.20" fill="#ffff9f"/><rect x="286.15" y="270.30" width="5.03" height="10.20" fill="#ffffaf"/><rect x="290.18" y="270.30" width="5.03" height="10.20" fill="#ffffbf"/><rect x="294.20" y="270.30" width="5.03" height="10.20" fill="#ffffcf"/><rect x="298.23" y="270.30" width="5.03" height="10.20" fill="#ffffdf"/><rect x="302.25" y="270.30" width="5.03" height="10.20" fill="#ffffef"/><rect x="306.28" y="270.30" width="4.03" height="10.20" fill="#ffffff"/><rect x="52.70" y="270.30" width="257.60" height="10.20" fill="none" stroke="#262626" stroke-width="0.5" opacity="0.7"/>
<rect x="331.40" y="270.30" width="5.02" height="10.20" fill="#00008f"/><rect x="335.42" y="270.30" width="5.02" height="10.20" fill="#00009f"/><rect x="339.43" y="270.30" width="5.02" height="10.20" fill="#0000af"/><rect x="343.45" y="270.30" width="5.02" height="10.20" fill="#0000bf"/><rect x="347.47" y="270.30" width="5.02" height="10.20" fill="#0000cf"/><rect x="351.49" y="270.30" width="5.02" height="10.20" fill="#0000df"/><rect x="355.50" y="270.30" width="5.02" height="10.20" fill="#0000ef"/><rect x="359.52" y="270.30" width="5.02" height="10.20" fill="#0000ff"/><rect x="363.54" y="270.30" width="5.02" height="10.20" fill="#0010ff"/><rect x="367.55" y="270.30" width="5.02" height="10.20" fill="#0020ff"/><rect x="371.57" y="270.30" width="5.02" height="10.20" fill="#0030ff"/><rect x="375.59" y="270.30" width="5.02" height="10.20" fill="#0040ff"/><rect x="379.61" y="270.30" width="5.02" height="10.20" fill="#0050ff"/><rect x="383.62" y="270.30" width="5.02" height="10.20" fill="#0060ff"/><rect x="387.64" y="270.30" width="5.02" height="10.20" fill="#0070ff"/><rect x="391.66" y="270.30" width="5.02" height="10.20" fill="#0080ff"/><rect x="395.67" y="270.30" width="5.02" height="10.20" fill="#008fff"/><rect x="399.69" y="270.30" width="5.02" height="10.20" fill="#009fff"/><rect x="403.71" y="270.30" width="5.02" height="10.20" fill="#00afff"/><rect x="407.73" y="270.30" width="5.02" height="10.20" fill="#00bfff"/><rect x="411.74" y="270.30" width="5.02" height="10.20" fill="#00cfff"/><rect x="415.76" y="270.30" width="5.02" height="10.20" fill="#00dfff"/><rect x="419.78" y="270.30" width="5.02" height="10.20" fill="#00efff"/><rect x="423.80" y="270.30" width="5.02" height="10.20" fill="#00ffff"/><rect x="427.81" y="270.30" width="5.02" height="10.20" fill="#10ffef"/><rect x="431.83" y="270.30" width="5.02" height="10.20" fill="#20ffdf"/><rect x="435.85" y="270.30" width="5.02" height="10.20" fill="#30ffcf"/><rect x="439.86" y="270.30" width="5.02" height="10.20" fill="#40ffbf"/><rect x="443.88" y="270.30" width="5.02" height="10.20" fill="#50ffaf"/><rect x="447.90" y="270.30" width="5.02" height="10.20" fill="#60ff9f"/><rect x="451.92" y="270.30" width="5.02" height="10.20" fill="#70ff8f"/><rect x="455.93" y="270.30" width="5.02" height="10.20" fill="#80ff80"/><rect x="459.95" y="270.30" width="5.02" height="10.20" fill="#8fff70"/><rect x="463.97" y="270.30" width="5.02" height="10.20" fill="#9fff60"/><rect x="467.98" y="270.30" width="5.02" height="10.20" fill="#afff50"/><rect x="472.00" y="270.30" width="5.02" height="10.20" fill="#bfff40"/><rect x="476.02" y="270.30" width="5.02" height="10.20" fill="#cfff30"/><rect x="480.04" y="270.30" width="5.02" height="10.20" fill="#dfff20"/><rect x="484.05" y="270.30" width="5.02" height="10.20" fill="#efff10"/><rect x="488.07" y="270.30" width="5.02" height="10.20" fill="#ffff00"/><rect x="492.09" y="270.30" width="5.02" height="10.20" fill="#ffef00"/><rect x="496.10" y="270.30" width="5.02" height="10.20" fill="#ffdf00"/><rect x="500.12" y="270.30" width="5.02" height="10.20" fill="#ffcf00"/><rect x="504.14" y="270.30" width="5.02" height="10.20" fill="#ffbf00"/><rect x="508.16" y="270.30" width="5.02" height="10.20" fill="#ffaf00"/><rect x="512.17" y="270.30" width="5.02" height="10.20" fill="#ff9f00"/><rect x="516.19" y="270.30" width="5.02" height="10.20" fill="#ff8f00"/><rect x="520.21" y="270.30" width="5.02" height="10.20" fill="#ff8000"/><rect x="524.23" y="270.30" width="5.02" height="10.20" fill="#ff7000"/><rect x="528.24" y="270.30" width="5.02" height="10.20" fill="#ff6000"/><rect x="532.26" y="270.30" width="5.02" height="10.20" fill="#ff5000"/><rect x="536.28" y="270.30" width="5.02" height="10.20" fill="#ff4000"/><rect x="540.29" y="270.30" width="5.02" height="10.20" fill="#ff3000"/><rect x="544.31" y="270.30" width="5.02" height="10.20" fill="#ff2000"/><rect x="548.33" y="270.30" width="5.02" height="10.20" fill="#ff1000"/><rect x="552.35" y="270.30" width="5.02" height="10.20" fill="#ff0000"/><rect x="556.36" y="270.30" width="5.02" height="10.20" fill="#ef0000"/><rect x="560.38" y="270.30" width="5.02" height="10.20" fill="#df0000"/><rect x="564.40" y="270.30" width="5.02" height="10.20" fill="#cf0000"/><rect x="568.41" y="270.30" width="5.02" height="10.20" fill="#bf0000"/><rect x="572.43" y="270.30" width="5.02" height="10.20" fill="#af0000"/><rect x="576.45" y="270.30" width="5.02" height="10.20" fill="#9f0000"/><rect x="580.47" y="270.30" width="5.02" height="10.20" fill="#8f0000"/><rect x="584.48" y="270.30" width="4.02" height="10.20" fill="#800000"/><rect x="331.40" y="270.30" width="257.10" height="10.20" fill="none" stroke="#262626" stroke-width="0.5" opacity="0.7"/>
<g stroke="#262626" stroke-width="0.5" opacity="0.6"><path d="M104.20 280.5v-2.2"/><path d="M155.70 280.5v-2.2"/><path d="M207.20 280.5v-2.2"/><path d="M258.70 280.5v-2.2"/><path d="M370.96 280.5v-2.2"/><path d="M410.52 280.5v-2.2"/><path d="M450.08 280.5v-2.2"/><path d="M489.64 280.5v-2.2"/><path d="M529.20 280.5v-2.2"/><path d="M568.76 280.5v-2.2"/></g>
<defs><linearGradient id="pg" x1="0.15" y1="0.85" x2="0.85" y2="0.15"><stop offset="0" stop-color="#fff4b0"/><stop offset="0.12" stop-color="#ffe070"/><stop offset="0.3" stop-color="#ffa820"/><stop offset="0.48" stop-color="#e87408"/><stop offset="0.57" stop-color="#b84a04"/><stop offset="0.72" stop-color="#9c2c02"/><stop offset="1" stop-color="#7c1000"/></linearGradient><linearGradient id="pg2" x1="0.15" y1="0.85" x2="0.85" y2="0.15"><stop offset="0" stop-color="#ffcc58"/><stop offset="0.25" stop-color="#ff9c18"/><stop offset="0.48" stop-color="#e87408"/><stop offset="0.57" stop-color="#b84a04"/><stop offset="0.72" stop-color="#9c2c02"/><stop offset="1" stop-color="#7c1000"/></linearGradient></defs>
<g id="planet1">
<circle cx="368.5" cy="59.6" r="15.8" fill="url(#pg)"/>
<path d="M350.6 61.7C350.7 60.5 350.4 56.9 351.2 54.5C352.0 52.1 353.4 49.4 355.3 47.4C357.2 45.4 359.9 43.4 362.4 42.3C364.9 41.2 368.0 41.0 370.5 40.7C373.0 40.4 375.4 41.1 377.6 40.7C379.8 40.3 381.8 39.3 383.7 38.3C385.6 37.3 387.7 35.5 388.8 34.6C389.9 33.7 390.2 33.3 390.5 33.0" fill="none" stroke="#000" stroke-width="2.7" stroke-linecap="butt"/>
<path d="M367.5 76.9C368.9 76.6 373.2 76.3 375.6 75.3C378.0 74.3 380.0 72.9 381.7 70.8C383.4 68.7 384.9 65.4 385.8 62.7C386.7 60.0 386.4 57.2 386.8 54.5C387.2 51.8 387.7 48.8 388.4 46.4C389.1 44.0 390.5 41.7 391.2 40.3C391.9 38.9 392.4 38.6 392.6 38.2" fill="none" stroke="#000" stroke-width="2.7" stroke-linecap="butt"/>
<polygon points="395.5,28.5 391.2,38.6 385.0,31.8" fill="#000"/>
<polygon points="398.2,31.2 395.5,41.9 388.3,36.1" fill="#000"/>
<line x1="352.3" y1="64.8" x2="342.3" y2="68.0" stroke="#000" stroke-width="2.4"/><polygon points="334.7,70.5 342.6,62.4 345.8,72.4" fill="#000"/>
<line x1="357.1" y1="71.6" x2="350.9" y2="78.1" stroke="#000" stroke-width="3.2"/><polygon points="343.5,85.8 347.6,71.1 358.0,81.1" fill="#000"/>
<line x1="363.9" y1="74.9" x2="362.4" y2="85.3" stroke="#000" stroke-width="2.2"/><polygon points="361.2,93.9 357.3,82.3 368.1,83.9" fill="#000"/>
</g>
<g id="planet2">
<circle cx="537.7" cy="165.4" r="23.5" fill="url(#pg2)"/>
<path d="M510.5 166.8A27.2 27.2 0 0 1 539.6 138.3C552 138.3 561.5 137.2 567.5 131.2L574.5 124.8" fill="none" stroke="#fff" stroke-width="1.5"/>
<path d="M535.1 190.6A25.3 25.3 0 0 0 563.0 164.5C563.2 152 565 141.5 572.2 133.6L579.2 127.9" fill="none" stroke="#fff" stroke-width="1.5"/>
<polygon points="578.8,121.0 575.7,127.7 571.7,123.2" fill="#fff"/>
<polygon points="582.7,125.3 580.0,132.0 575.8,127.4" fill="#fff"/>
<line x1="513.4" y1="172.3" x2="499.3" y2="176.1" stroke="#fff" stroke-width="1.0"/><polygon points="495.7,177.0 499.6,173.9 500.7,177.8" fill="#fff"/>
<line x1="519.5" y1="181.0" x2="505.4" y2="193.3" stroke="#fff" stroke-width="1.0"/><polygon points="502.6,195.7 504.8,191.2 507.4,194.2" fill="#fff"/>
<line x1="528.6" y1="187.5" x2="523.4" y2="201.4" stroke="#fff" stroke-width="1.0"/><polygon points="522.1,204.8 521.8,199.8 525.6,201.2" fill="#fff"/>
</g>
</svg></body></html>
